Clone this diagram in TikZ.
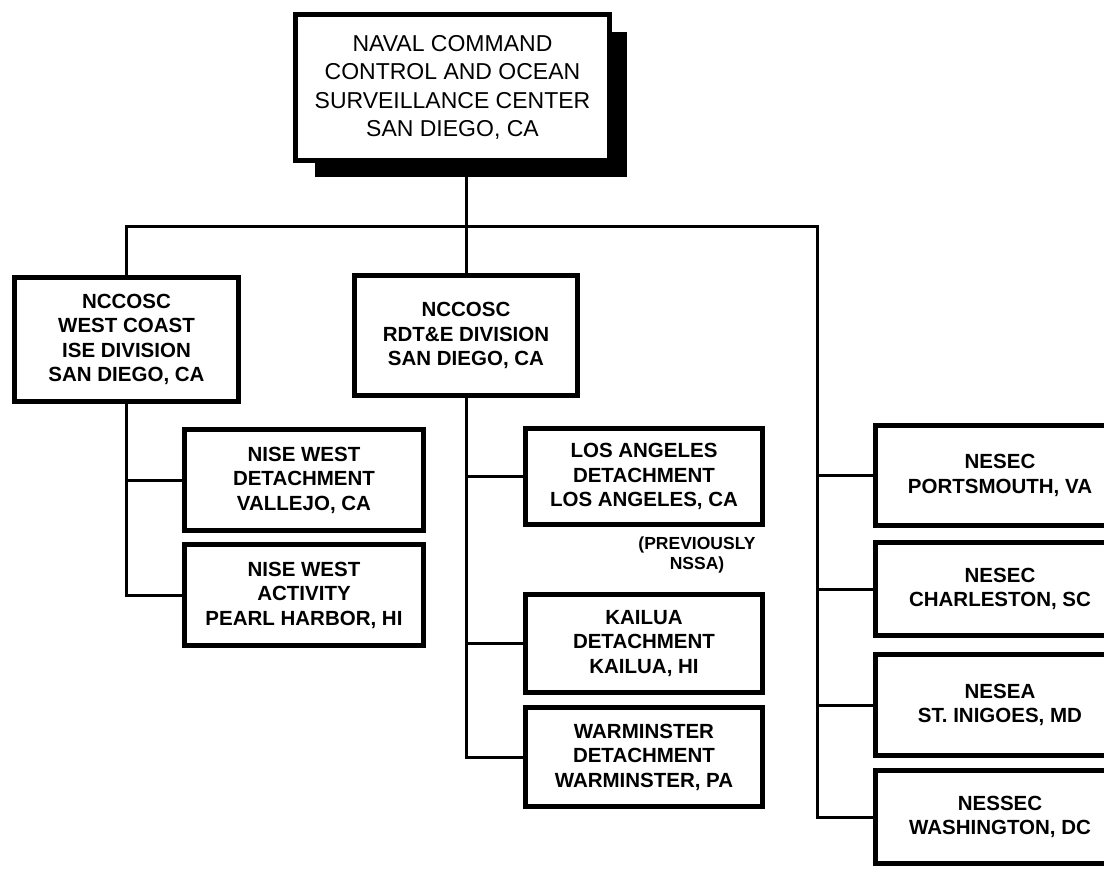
\documentclass[tikz,border=0pt]{standalone}
\usepackage{fontspec}
\setmainfont{Liberation Sans}
\usetikzlibrary{calc}
\begin{document}
\begin{tikzpicture}[x=1pt,y=-1pt,
  box/.style={draw, line width=5pt, fill=white, inner sep=0pt, align=center,
    font=\fontsize{20.5}{24.5}\selectfont\bfseries},
  topbox/.style={box, font=\fontsize{23}{28.5}\selectfont},
  notetext/.style={inner sep=0pt, align=center, font=\fontsize{17.5}{20}\selectfont\bfseries},
  link/.style={line width=3pt},
]
\useasboundingbox (0,0) rectangle (1104,869);
\clip (0,0) rectangle (1104,869);
\fill[white] (0,0) rectangle (1104,869);

% drop shadow of the top box
\fill[black] (315,32) rectangle (627,177);

\node[topbox, minimum width=314pt, minimum height=146pt] (top) at (452.5,87.5)
  {NAVAL COMMAND\\CONTROL AND OCEAN\\SURVEILLANCE CENTER\\SAN DIEGO, CA};

\node[box, minimum width=224pt, minimum height=124pt] (left) at (126.5,339.5)
  {NCCOSC\\WEST COAST\\ISE DIVISION\\SAN DIEGO, CA};
\node[box, minimum width=223pt, minimum height=120pt] (mid) at (466,335.5)
  {NCCOSC\\RDT\&E DIVISION\\SAN DIEGO, CA};

\node[box, minimum width=239pt, minimum height=101pt] (nw1) at (304,480)
  {NISE WEST\\DETACHMENT\\VALLEJO, CA};
\node[box, minimum width=239pt, minimum height=101pt] (nw2) at (304,595)
  {NISE WEST\\ACTIVITY\\PEARL HARBOR, HI};

\node[box, minimum width=237pt, minimum height=96pt] (la) at (644,476.5)
  {LOS ANGELES\\DETACHMENT\\LOS ANGELES, CA};
\node[notetext] (note) at (697,555) {(PREVIOUSLY\\NSSA)};
\node[box, minimum width=237pt, minimum height=98pt] (ka) at (644,643.5)
  {KAILUA\\DETACHMENT\\KAILUA, HI};
\node[box, minimum width=237pt, minimum height=99pt] (wa) at (644,757)
  {WARMINSTER\\DETACHMENT\\WARMINSTER, PA};

\node[box, minimum width=249pt, minimum height=100pt] (r1) at (1000,475.5)
  {NESEC\\PORTSMOUTH, VA};
\node[box, minimum width=249pt, minimum height=93pt] (r2) at (1000,589)
  {NESEC\\CHARLESTON, SC};
\node[box, minimum width=249pt, minimum height=101pt] (r3) at (1000,705)
  {NESEA\\ST. INIGOES, MD};
\node[box, minimum width=249pt, minimum height=93pt] (r4) at (1000,817)
  {NESSEC\\WASHINGTON, DC};

% connectors
\coordinate (rt) at (817,227);
\draw[link] (top.south -| mid.north) -- (mid.north);
\draw[link] (left.north) |- (rt) |- (r4.west);
\draw[link] (r1.west -| rt) -- (r1.west);
\draw[link] (r2.west -| rt) -- (r2.west);
\draw[link] (r3.west -| rt) -- (r3.west);

\draw[link] (left.south) |- (nw2.west);
\draw[link] (nw1.west -| left.south) -- (nw1.west);

\draw[link] (mid.south) |- (wa.west);
\draw[link] (la.west -| mid.south) -- (la.west);
\draw[link] (ka.west -| mid.south) -- (ka.west);
\end{tikzpicture}
\end{document}
